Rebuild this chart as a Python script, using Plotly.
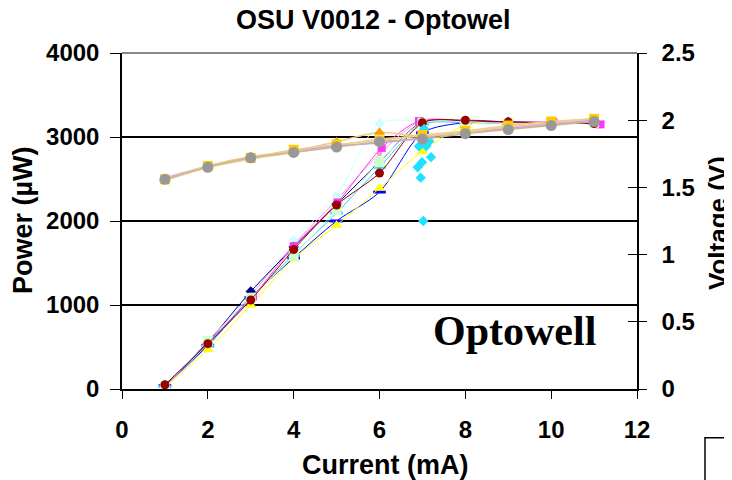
import plotly.graph_objects as go

# ---------------- data ----------------
current = [1, 2, 3, 4, 5, 6, 7, 8, 9, 10, 11]
current_b = [1.02, 2.0, 3.05, 4.0, 5.02, 6.05, 6.92, 8.0, 9.0, 10.05, 11.15]

power_navy = [40, 560, 1160, 1690, 2200, 2700, 3180, 3190, 3180, 3170, 3170]
power_magenta = [30, 550, 1100, 1700, 2220, 2870, 3190, 3180, 3170, 3180, 3150]
power_yellow = [20, 470, 1000, 1550, 1950, 2390, 2830, 3140, 3170, 3170, 3180]
power_darkred = [50, 540, 1060, 1660, 2190, 2570, 3170, 3200, 3180, 3170, 3160]
power_green = [20, 575, 1085, 1585, 2130, 2700, 3170, 3180, 3160, 3160, 3170]
power_cyan = [30, 510, 1080, 1600, 2095, 2640, 3150, 3170, 3160, 3170, 3170]
power_blue = [40, 520, 1090, 1560, 2000, 2345, 3050, 3170, 3160, 3170, 3170]
power_lightcyan = [60, 560, 1130, 1770, 2300, 3160, 3190, 3180, 3170, 3180, 3190]
power_pink = [40, 560, 1120, 1720, 2250, 2800, 3200, 3190, 3180, 3180, 3170]

scatter_current = [7.02, 6.96, 6.89, 6.99, 7.2, 6.92, 7.09, 7.16, 7.04]
scatter_power = [2000, 2516, 2640, 2700, 2760, 2890, 2890, 2950, 3095]

volt_gray = [1.56, 1.65, 1.72, 1.76, 1.80, 1.84, 1.86, 1.90, 1.93, 1.96, 1.99]
volt_gold = [1.56, 1.66, 1.72, 1.78, 1.82, 1.85, 1.89, 1.92, 1.96, 1.99, 2.01]
volt_orange = [1.56, 1.66, 1.73, 1.77, 1.84, 1.91, 1.88, 1.91, 1.95, 1.98, 2.01]
volt_lavender = [1.57, 1.66, 1.72, 1.77, 1.81, 1.83, 1.87, 1.91, 1.94, 1.97, 2.00]
volt_peach = [1.55, 1.65, 1.71, 1.76, 1.81, 1.86, 1.88, 1.91, 1.94, 1.97, 2.00]

x_ticks = [0, 2, 4, 6, 8, 10, 12]
power_ticks = [0, 1000, 2000, 3000, 4000]
volt_ticks = [0, 0.5, 1, 1.5, 2, 2.5]

# page offset of the figure div (browser body margin)
OFF = 8

# ---------------- figure ----------------
fig = go.Figure()

def power_trace(x, y, color, symbol, size=8, mline=None):
    marker = dict(color=color, symbol=symbol, size=size)
    if mline:
        marker["line"] = dict(color=color, width=mline)
    fig.add_trace(go.Scatter(x=x, y=y, mode="lines+markers",
                             line=dict(color=color, width=1, shape="spline", smoothing=0.8),
                             marker=marker, yaxis="y", showlegend=False))

power_trace(current, power_pink, "#FF99CC", "circle", 5)
power_trace(current, power_lightcyan, "#CCFFFF", "diamond", 8)
power_trace(current, power_blue, "#0000FF", "line-ew-open", 9, 3)
power_trace(current, power_cyan, "#33CCFF", "line-ew-open", 9, 3)
power_trace(current, power_yellow, "#FFFF00", "triangle-up", 10)
power_trace(current, power_navy, "#000080", "diamond", 8)
power_trace(current_b, power_magenta, "#FF33FF", "square", 8)
power_trace(current, power_green, "#CCFFCC", "square", 10)
power_trace(current, power_darkred, "#990000", "circle", 9)

fig.add_trace(go.Scatter(x=scatter_current, y=scatter_power, mode="markers",
                         marker=dict(color="#1EE0FF", symbol="diamond", size=8),
                         yaxis="y", showlegend=False))

def volt_trace(x, y, color, symbol, size=9, lcolor=None):
    fig.add_trace(go.Scatter(x=x, y=y, mode="lines+markers",
                             line=dict(color=lcolor or color, width=1.5, shape="spline", smoothing=0.6),
                             marker=dict(color=color, symbol=symbol, size=size),
                             yaxis="y2", showlegend=False))

volt_trace(current, volt_peach, "#FFCC99", "circle", 5)
volt_trace(current, volt_lavender, "#CC99FF", "circle", 7)
volt_trace(current, volt_orange, "#FF9900", "triangle-up", 10, "#F2C98A")
volt_trace(current, volt_gold, "#FFCC00", "square", 10, "#E8D090")
volt_trace(current, volt_gray, "#999999", "circle", 11, "#C8B890")

# empty trace so the inner tick marks of the right axis get drawn
fig.add_trace(go.Scatter(x=[], y=[], yaxis="y3", showlegend=False, hoverinfo="skip"))

bold = "Liberation Sans, Arial, sans-serif"

# target plot area in page pixels: x 122..637, y 53..389
L, R, T, B = 122 - OFF, 637 - OFF, 53 - OFF, 389 - OFF

def px(xp):
    return (xp - 122) / 515

def py(yp):
    return (389 - yp) / 336

fig.update_layout(
    width=732, height=480,
    margin=dict(l=L, r=732 - R, t=T, b=480 - B),
    paper_bgcolor="white", plot_bgcolor="white",
    title=dict(text="OSU V0012 - Optowel", xref="container", yref="container",
               x=(236 - OFF) / 732, xanchor="left", y=1 - (20 - OFF) / 480, yanchor="middle",
               font=dict(family=bold, size=27, color="black", weight="bold")),
    xaxis=dict(range=[0, 12], tickvals=x_ticks, showgrid=False, zeroline=False,
               showline=True, linecolor="black", linewidth=1.5,
               ticks="outside", ticklen=8, tickcolor="black", tickwidth=1,
               ticklabelstandoff=10,
               tickfont=dict(family=bold, size=24, color="black", weight="bold")),
    yaxis=dict(range=[0, 4000], tickvals=power_ticks, showgrid=True, gridcolor="black",
               gridwidth=1.5, zeroline=False, showline=True, linecolor="black", linewidth=1.5,
               ticks="outside", ticklen=10, tickcolor="black", tickwidth=1,
               ticklabelstandoff=6,
               tickfont=dict(family=bold, size=24, color="black", weight="bold")),
    yaxis2=dict(range=[0, 2.5], tickvals=volt_ticks, overlaying="y", side="right",
                showgrid=False, zeroline=False, showline=True, linecolor="black", linewidth=1.5,
                ticks="outside", ticklen=8, tickcolor="black", tickwidth=1,
                ticklabelstandoff=10,
                tickfont=dict(family=bold, size=24, color="black", weight="bold")),
    yaxis3=dict(range=[0, 2.5], tickvals=volt_ticks, overlaying="y", side="right",
                showgrid=False, zeroline=False, showline=False, showticklabels=False,
                ticks="inside", ticklen=9, tickcolor="black", tickwidth=1),
)

# top border (gray)
fig.add_shape(type="line", xref="paper", yref="paper", x0=0, x1=1, y0=1, y1=1,
              line=dict(color="#888888", width=2), layer="above")

# axis titles
fig.add_annotation(text="Current (mA)", xref="paper", yref="paper",
                   x=px(300), xanchor="left", y=py(465), yanchor="middle",
                   showarrow=False, font=dict(family=bold, size=27, color="black", weight="bold"))
fig.add_annotation(text="Power (µW)", xref="paper", yref="paper", textangle=-90,
                   x=px(23), xanchor="center", y=py(220), yanchor="middle",
                   showarrow=False, font=dict(family=bold, size=27, color="black", weight="bold"))
fig.add_annotation(text="Voltage (V)", xref="paper", yref="paper", textangle=-90,
                   x=px(718), xanchor="center", y=py(223), yanchor="middle",
                   showarrow=False, font=dict(family=bold, size=26, color="black", weight="bold"))

# logo text
fig.add_annotation(text="Optowell", xref="paper", yref="paper",
                   x=px(514), xanchor="center", y=py(331), yanchor="middle",
                   showarrow=False,
                   font=dict(family="Liberation Serif, Times New Roman, serif", size=42,
                             color="black", weight="bold"))

# cut-off box at bottom right
fig.add_shape(type="rect", xref="paper", yref="paper",
              x0=px(705), x1=px(760), y0=py(437.7), y1=py(520),
              line=dict(color="black", width=1.5), fillcolor="white", layer="below")
fig.add_annotation(text="I", xref="paper", yref="paper",
                   x=px(729.5), xanchor="center", y=py(470), yanchor="middle",
                   showarrow=False,
                   font=dict(family="Liberation Serif, Times New Roman, serif", size=28,
                             color="black", weight="bold"))

fig.write_html("out.html")
